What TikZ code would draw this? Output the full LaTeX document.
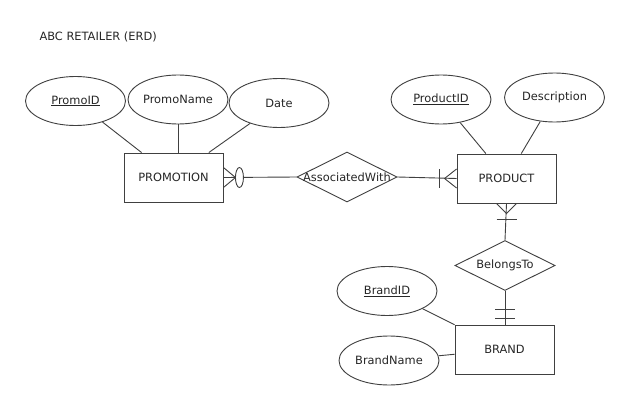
\documentclass[tikz,border=0pt]{standalone}
\usepackage{fontspec}
\setmainfont{DejaVu Sans}
\usetikzlibrary{shapes.geometric,calc}
\begin{document}
\begin{tikzpicture}[x=1pt,y=-1pt,
  every node/.style={font=\fontsize{11.4}{13}\selectfont, text=black!85},
  ln/.style={draw=black!75, line width=0.9pt},
  attr/.style={ellipse, ln, minimum width=100pt, minimum height=49pt, inner sep=0pt},
  ent/.style={rectangle, ln, minimum width=99pt, minimum height=49pt, inner sep=0pt},
  rel/.style={diamond, ln, minimum width=100pt, minimum height=50pt, inner sep=0pt}]
\useasboundingbox[fill=white] (0,0) rectangle (631,412);
\node[anchor=west] (title) at (36,37) {ABC RETAILER (ERD)};
% entities
\node[ent] (promo) at (173.5,177.5) {PROMOTION};
\node[ent] (prod) at (506.5,178.5) {PRODUCT};
\node[ent] (brand) at (504.5,349.5) {BRAND};
% relationships
\node[rel] (aw) at (347,177) {};
\node (awt) at (aw) {AssociatedWith};
\node[rel] (bt) at (505,265.5) {};
\node (btt) at (bt) {BelongsTo};
% attributes
\node[attr] (pid) at (75.5,101) {\underline{PromoID}};
\node[attr] (pname) at (178,99.5) {PromoName};
\node[attr] (pdate) at (279,103) {Date};
\node[attr] (prid) at (441,99.5) {\underline{ProductID}};
\node[attr] (desc) at (554.5,97.5) {Description};
\node[attr] (bid) at (387,291) {\underline{BrandID}};
\node[attr] (bname) at (389,360.5) {BrandName};
% attribute links
\draw[ln] (pid) -- (promo);
\draw[ln] (pname) -- (pname |- promo.north);
\draw[ln] (pdate) -- (promo);
\draw[ln] (prid) -- (prod);
\draw[ln] (desc) -- (prod);
\draw[ln] (bid) -- (brand);
\draw[ln] (bname) -- (brand);
% PROMOTION -- AssociatedWith (zero or many)
\draw[ln] (promo.east) -- (aw.west);
\draw[ln] ($(promo.east)+(0,-10)$) -- ($(promo.east)+(12,0)$) -- ($(promo.east)+(0,10)$);
\draw[ln, fill=white] ($(promo.east)+(16,0)$) ellipse [x radius=4, y radius=10];
% AssociatedWith -- PRODUCT (one or many)
\draw[ln] (aw.east) -- (prod.west);
\draw[ln] ($(prod.west)+(0,-9.5)$) -- ($(prod.west)+(-12,0)$) -- ($(prod.west)+(0,9.5)$);
\draw[ln] ($(prod.west)+(-17,-9.5)$) -- ($(prod.west)+(-17,9.5)$);
% PRODUCT -- BelongsTo (one or many)
\draw[ln] (prod.south) -- (bt.north);
\draw[ln] ($(prod.south)+(-10,0)$) -- ($(prod.south)+(0,10)$) -- ($(prod.south)+(10,0)$);
\draw[ln] ($(prod.south)+(-10,16)$) -- ($(prod.south)+(10,16)$);
% BelongsTo -- BRAND (one and only one)
\draw[ln] (bt.south) -- (bt.south |- brand.north);
\draw[ln] ($(bt.south)+(-10,18)$) -- ($(bt.south)+(10,18)$);
\draw[ln] ($(bt.south)+(-10,27)$) -- ($(bt.south)+(10,27)$);
\end{tikzpicture}
\end{document}
